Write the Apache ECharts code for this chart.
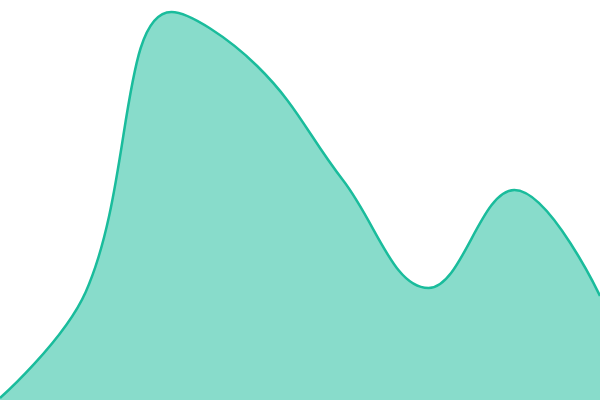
<!DOCTYPE html>
<html><head><meta charset="utf-8">
<script src="https://cdn.jsdelivr.net/npm/echarts@6/dist/echarts.min.js"></script>
<style>html,body{margin:0;padding:0;background:#fff}#c{width:600px;height:400px}</style>
</head><body><div id="c"></div>
<script>
const categories = ['1','2','3','4','5','6','7','8'];
const values = [0.5, 27, 97, 83.5, 55, 28, 52.5, 26];
const chart = echarts.init(document.getElementById('c'));
chart.setOption({
  animation:false,
  grid:{left:0,right:0,top:0,bottom:0},
  xAxis:{type:'category',data:categories,boundaryGap:false,show:false},
  yAxis:{type:'value',min:0,max:100,show:false},
  series:[{type:'line',data:values,smooth:0.4,symbol:'none',
    lineStyle:{color:'#1abc9c',width:2.5},
    areaStyle:{color:'#1abc9c',opacity:0.52}}]
});
</script></body></html>
